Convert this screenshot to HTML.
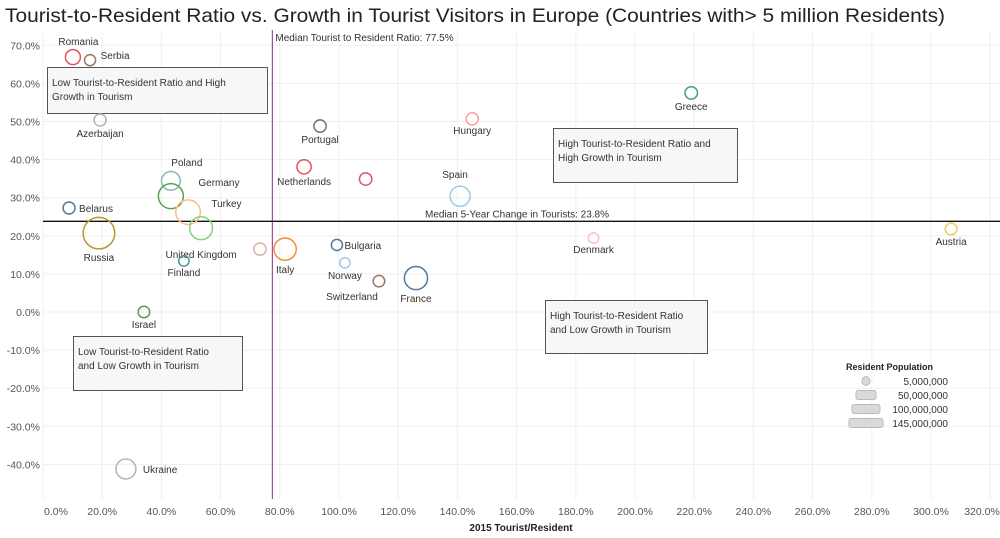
<!DOCTYPE html>
<html><head><meta charset="utf-8"><style>
body{margin:0;background:#fff;font-family:"Liberation Sans",sans-serif;}
svg text{font-family:"Liberation Sans",sans-serif;}
</style></head><body>
<svg id="chart" width="1000" height="533" viewBox="0 0 1000 533" xmlns="http://www.w3.org/2000/svg">
<text x="5" y="22" font-size="19.5" fill="#222" textLength="940" lengthAdjust="spacingAndGlyphs">Tourist-to-Resident Ratio vs. Growth in Tourist Visitors in Europe (Countries with&gt; 5 million Residents)</text>
<g id="grid"></g>
<g id="axes"></g>
<g id="annot"></g>
<g id="marks"></g>
<g id="legend"></g>
</svg>
<script>
const countries = ["Romania","Serbia","Azerbaijan","Belarus","Russia","Poland","Germany","Turkey","United Kingdom","Finland","Israel","Ukraine","Portugal","Netherlands","","Hungary","Greece","Spain","Denmark","Austria","","Italy","Bulgaria","Norway","Switzerland","France"];
const ratioPct = [10.1,15.9,19.3,8.8,18.9,43.2,43.2,49,53.4,47.6,34.1,28,93.6,88.2,109,145,219,140.9,186,306.8,73.3,81.8,99.3,102,113.5,126];
const growthPct = [66.9,66.1,50.4,27.3,20.7,34.4,30.4,26.2,22,13.4,0,-41.2,48.8,38.1,34.9,50.7,57.5,30.4,19.4,21.8,16.5,16.5,17.6,12.9,8.1,8.9];
const populationM = [19.8,7.1,9.6,9.5,144,38,81,78,65,5.5,8.4,45,10.4,17,10.6,9.8,10.9,46,5.7,8.6,10.2,60.8,7.2,5.2,8.3,66.5];
const colors = ["#e15759","#9c755f","#bab0ac","#4e79a7","#b6992d","#86bcb6","#59a14f","#ffbe7d","#8cd17d","#499894","#59a14f","#bab0ac","#79706e","#e15759","#d4556f","#ff9d9a","#499894","#a0cbe8","#fabfd2","#f1ce63","#d7b5a6","#f28e2b","#4e79a7","#a0cbe8","#9d7660","#4e79a7"];
const xTicks = [0,20,40,60,80,100,120,140,160,180,200,220,240,260,280,300,320];
const yTicks = [70,60,50,40,30,20,10,0,-10,-20,-30,-40];
const medianRatio = 77.5;
const medianGrowth = 23.8;
const legendPops = [5,50,100,145];
const legendLabels = ["5,000,000","50,000,000","100,000,000","145,000,000"];

const NS="http://www.w3.org/2000/svg";
const L=43,R=1000,T=30,B=499;
const x=v=>43+v*2.96;
const y=v=>312-v*3.81;
const rad=p=>2.6+Math.sqrt(p)*1.1;
function mk(tag,attrs,parent,txt){const e=document.createElementNS(NS,tag);for(const k in attrs)e.setAttribute(k,attrs[k]);if(txt!==undefined)e.textContent=txt;parent.appendChild(e);return e;}
const grid=document.getElementById('grid'),axes=document.getElementById('axes'),annot=document.getElementById('annot'),marks=document.getElementById('marks'),legend=document.getElementById('legend');

xTicks.forEach((t,i)=>{
  const gl=mk('line',{x1:x(t),x2:x(t),y1:T,y2:B,stroke:'#efefef'},grid);
  
  
  let cx=x(t); if(i===0)cx=56; if(cx>982)cx=982;
  const tl=mk('text',{x:cx,y:515,'font-size':10.5,fill:'#555','text-anchor':'middle'},axes,t.toFixed(1)+'%');
  
  
});
yTicks.forEach(t=>{
  const gl=mk('line',{x1:L,x2:R,y1:y(t),y2:y(t),stroke:'#efefef'},grid);
  
  
  const tl=mk('text',{x:40,y:y(t)+4,'font-size':10.5,fill:'#555','text-anchor':'end'},axes,t.toFixed(1)+'%');
  
  
});
const xt=mk('text',{x:521,y:531,'font-size':10,'font-weight':'bold',fill:'#222','text-anchor':'middle'},axes,'2015 Tourist/Resident');



const vl=mk('line',{x1:x(medianRatio),x2:x(medianRatio),y1:T,y2:B,stroke:'#a64d9e','stroke-width':1.2},annot);


const vt=mk('text',{x:x(medianRatio)+3,y:41,'font-size':10,fill:'#333'},annot,'Median Tourist to Resident Ratio: '+medianRatio+'%');


const hl=mk('line',{x1:L,x2:R,y1:y(medianGrowth),y2:y(medianGrowth),stroke:'#111','stroke-width':1.3},annot);


const ht=mk('text',{x:425,y:y(medianGrowth)-4,'font-size':10,fill:'#333'},annot,'Median 5-Year Change in Tourists: '+medianGrowth+'%');



const boxes=[[47,67,220,46,'Low Tourist-to-Resident Ratio and High','Growth in Tourism','quadrant-box-low-high'],
[553,128,184,54,'High Tourist-to-Resident Ratio and','High Growth in Tourism','quadrant-box-high-high'],
[545,300,162,53,'High Tourist-to-Resident Ratio','and Low Growth in Tourism','quadrant-box-high-low'],
[73,336,169,54,'Low Tourist-to-Resident Ratio','and Low Growth in Tourism','quadrant-box-low-low']];
boxes.forEach(b=>{
  const g=mk('g',{},annot);
  
  
  mk('rect',{x:b[0]+.5,y:b[1]+.5,width:b[2],height:b[3],fill:'#f7f7f7',stroke:'#555'},g);
  mk('text',{x:b[0]+5,y:b[1]+19,'font-size':10,fill:'#333'},g,b[4]);
  mk('text',{x:b[0]+5,y:b[1]+33,'font-size':10,fill:'#333'},g,b[5]);
});

const labelPos={"Romania":[-18,-12,'start'],"Serbia":[9,-1,'start'],"Azerbaijan":[0,17,'middle'],"Belarus":[8,4,'start'],"Russia":[0,28,'middle'],"Poland":[16,-15,'middle'],"Germany":[19,-10,'start'],"Turkey":[15,-5,'start'],"United Kingdom":[0,30,'middle'],"Finland":[0,15,'middle'],"Israel":[0,16,'middle'],"Ukraine":[11,4,'start'],"Portugal":[0,17,'middle'],"Netherlands":[0,18,'middle'],"Hungary":[0,15,'middle'],"Greece":[0,17,'middle'],"Spain":[-5,-18,'middle'],"Denmark":[0,15,'middle'],"Austria":[0,16,'middle'],"Italy":[0,24,'middle'],"Bulgaria":[6,4,'start'],"Norway":[0,16,'middle'],"Switzerland":[-27,19,'middle'],"France":[0,24,'middle']};
countries.forEach((c,i)=>{
  const cx=x(ratioPct[i]),cy=y(growthPct[i]),r=rad(populationM[i]);
  const pt=mk('circle',{cx:cx,cy:cy,r:r,fill:'none',stroke:colors[i],'stroke-width':1.5},marks);
  
  
  if(c){
    const p=labelPos[c]||[0,15,'middle'];
    const dx=p[2]==='start'?r+p[0]-4:p[0];
    const lb=mk('text',{x:cx+dx,y:cy+p[1],'font-size':10,fill:'#333','text-anchor':p[2]},marks,c);
    
    
  }
});

const lt=mk('text',{x:846,y:370,'font-size':9,'font-weight':'bold',fill:'#222'},legend,'Resident Population');


const lw=[8,20,28,34];
legendPops.forEach((p,i)=>{
  const yy=381+i*14;
  const w=lw[i];
  const g=mk('g',{},legend);
  
  
  mk('rect',{x:866-w/2,y:yy-4.5,width:w,height:9,rx:i===0?4.5:2,fill:'#d9d9d9',stroke:'#bbb'},g);
  mk('text',{x:948,y:yy+4,'font-size':10,fill:'#333','text-anchor':'end'},g,legendLabels[i]);
});
</script>
</body></html>
